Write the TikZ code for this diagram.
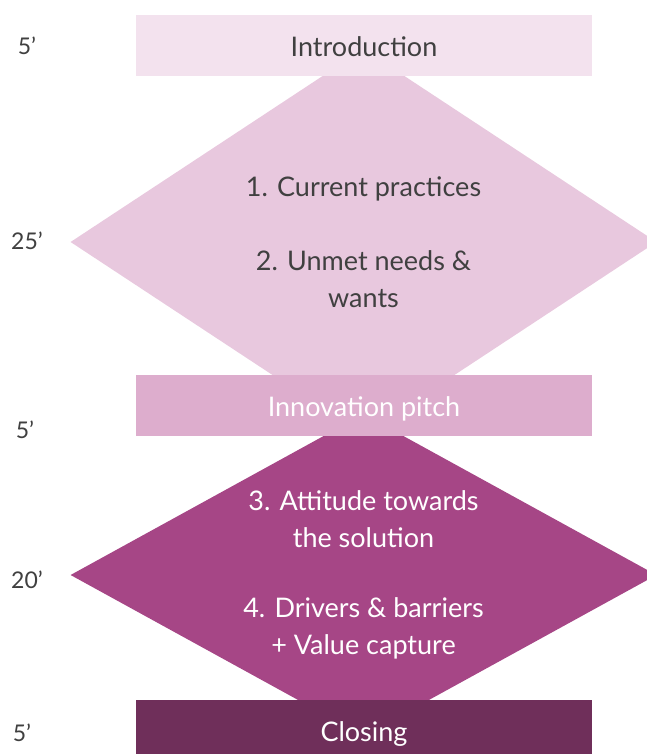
\documentclass[tikz,border=0pt]{standalone}
\usepackage{fontspec}
\setmainfont{Lato}
\usepackage{xcolor}
\usepackage{tikz}
\usetikzlibrary{shapes.geometric}
\definecolor{introfill}{RGB}{243,226,238}
\definecolor{talkfill}{RGB}{232,200,222}
\definecolor{pitchfill}{RGB}{221,173,205}
\definecolor{solfill}{RGB}{166,70,134}
\definecolor{closefill}{RGB}{111,47,90}
\definecolor{textgray}{RGB}{64,64,64}
\newcommand{\phasefont}{\fontsize{27}{37}\selectfont}
\newcommand{\minsfont}{\fontsize{23}{28}\selectfont}

\begin{document}
\begin{tikzpicture}[x=1pt, y=-1pt,
  phase/.style={minimum width=456pt, minimum height=61pt, inner sep=0pt,
    text height=24pt, text depth=2pt, font=\phasefont},
  block/.style={diamond, minimum width=586pt, inner sep=0pt, align=center, font=\phasefont},
  mins/.style={font=\minsfont, text=textgray}]

\useasboundingbox (0,0) rectangle (647,754);
\clip (0,0) rectangle (647,754);

%% discussion blocks
\node[block, aspect=1.52, minimum height=386pt, fill=talkfill, text=textgray] (talk) at (363.5,242)
  {1. Current practices\\[37pt]2. Unmet needs \&\\wants};
\node[block, aspect=1.82, minimum height=322pt, fill=solfill, text=white] (sol) at (363.5,575)
  {3. Attitude towards\\the solution\\[33pt]4. Drivers \& barriers\\+ Value capture};

%% phases
\node[phase, fill=introfill, text=textgray] (intro) at (364,45.5) {Introduction};
\node[phase, fill=pitchfill, text=white] (pitch) at (364,405.5) {Innovation pitch};
\node[phase, fill=closefill, text=white] (close) at (364,730.5) {Closing};

%% timing
\node[mins] (t1) at (27,46) {5’};
\node[mins] (t2) at (27,241) {25’};
\node[mins] (t3) at (25,430) {5’};
\node[mins] (t4) at (27,580) {20’};
\node[mins] (t5) at (22,733) {5’};
\end{tikzpicture}
\end{document}
